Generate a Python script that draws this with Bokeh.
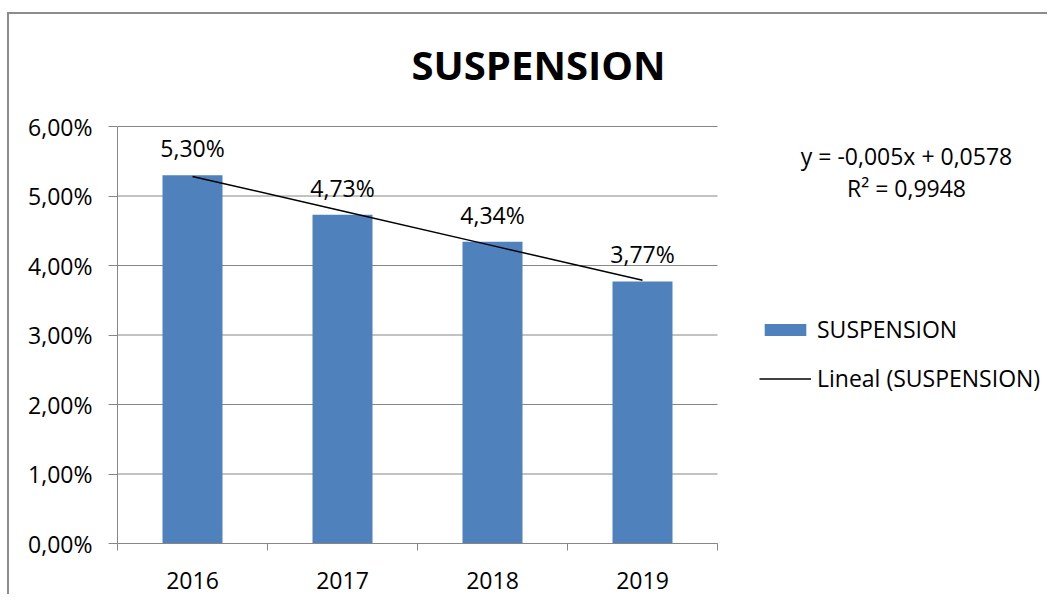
import numpy as np
from bokeh.plotting import figure
from bokeh.models import (ColumnDataSource, FixedTicker, CustomJSTickFormatter, LabelSet, Label,
                          Legend, LegendItem)
from bokeh.core.properties import value
from bokeh.embed import file_html
from bokeh.resources import INLINE

title = "SUSPENSION"
years = ["2016", "2017", "2018", "2019"]
values = [0.0530, 0.0473, 0.0434, 0.0377]
y_ticks = [0.0, 0.01, 0.02, 0.03, 0.04, 0.05, 0.06]
series_name = "SUSPENSION"
trend_name = "Lineal (SUSPENSION)"

FONT = "Open Sans"
GRID = "#868686"
BAR = "#4F81BD"

xs = list(range(1, len(years) + 1))
slope, intercept = np.polyfit(xs, values, 1)
fit = [slope * x + intercept for x in xs]
ss_res = sum((v - f) ** 2 for v, f in zip(values, fit))
mean = sum(values) / len(values)
ss_tot = sum((v - mean) ** 2 for v in values)
r2 = 1 - ss_res / ss_tot

def fmt_num(v, d):
    return f"{v:.{d}f}".replace(".", ",")

eq_text = f"y = {fmt_num(slope, 3)}x + {fmt_num(intercept, 4)}"
r2_text = f"R² = {fmt_num(r2, 4)}"

src = ColumnDataSource(dict(x=xs, top=values,
                            lbl=[fmt_num(v * 100, 2) + "%" for v in values]))

# layout geometry (pixels)
W, H = 1040, 582
B_LEFT, B_RIGHT, B_TOP, B_BOTTOM = 108, 4, 0, 53
PX_PER_CAT = 150.0
AXIS_PX = 417.0          # pixel height of the 0..6% value axis
y_max = y_ticks[-1]
x_start = 0.5
x_end = x_start + (W - B_LEFT - B_RIGHT) / PX_PER_CAT
y_end = y_max * (H - B_TOP - B_BOTTOM) / AXIS_PX
cat_end = len(years) + 0.5

p = figure(width=W, height=H, output_backend="svg", toolbar_location=None,
           x_range=(x_start, x_end), y_range=(0, y_end),
           min_border_left=B_LEFT, min_border_right=B_RIGHT,
           min_border_top=B_TOP, min_border_bottom=B_BOTTOM)
p.styles = {"border-left": "2px solid #8c8c8c", "border-top": "2px solid #8c8c8c",
            "margin-left": "7px", "margin-top": "12px"}
p.outline_line_color = None
p.background_fill_color = "white"
p.border_fill_color = "white"

# gridlines restricted to category area
p.xgrid.visible = False
p.ygrid.visible = False
p.segment(x0=[x_start] * len(y_ticks), x1=[cat_end] * len(y_ticks), y0=y_ticks, y1=y_ticks,
          line_color=GRID, line_width=1)

bars = p.vbar(x="x", top="top", width=0.4, source=src, fill_color=BAR, line_color=None)
trend = p.line(xs, fit, line_color="black", line_width=1.5)

# axes
p.yaxis.bounds = (0, y_max)
p.yaxis.ticker = FixedTicker(ticks=y_ticks)
p.yaxis.formatter = CustomJSTickFormatter(code="return (tick*100).toFixed(2).replace('.', ',') + '%';")
p.yaxis.axis_line_color = GRID
p.yaxis.major_tick_line_color = GRID
p.yaxis.major_tick_out = 9
p.yaxis.major_tick_in = 0
p.yaxis.minor_tick_line_color = None
p.yaxis.major_label_standoff = 16

p.xaxis.bounds = (x_start, cat_end)
p.xaxis.ticker = FixedTicker(ticks=xs, minor_ticks=[x - 0.5 for x in xs] + [xs[-1] + 0.5])
p.xaxis.major_label_overrides = {x: y for x, y in zip(xs, years)}
p.xaxis.axis_line_color = GRID
p.xaxis.major_tick_line_color = None
p.xaxis.minor_tick_line_color = GRID
p.xaxis.minor_tick_out = 7
p.xaxis.minor_tick_in = 0
p.xaxis.major_label_standoff = 21

for ax in (p.xaxis[0], p.yaxis[0]):
    ax.major_label_text_font = FONT
    ax.major_label_text_font_size = "23px"
    ax.major_label_text_color = "black"

labels = LabelSet(x="x", y="top", text="lbl", source=src, text_align="center",
                  text_baseline="alphabetic", y_offset=18, text_font=value(FONT),
                  text_font_size="23px", text_color="black")
p.add_layout(labels)

p.add_layout(Label(x=3.307, y=0.0689, text=title, text_align="center", text_baseline="alphabetic",
                   text_font=FONT, text_font_size="40px", text_font_style="bold", text_color="black"))

eq_x = 5.76
p.add_layout(Label(x=eq_x, y=0.0557, text=eq_text, text_align="center", text_baseline="alphabetic",
                   text_font=FONT, text_font_size="23px", text_color="black"))
p.add_layout(Label(x=eq_x, y=0.0511, text=r2_text, text_align="center", text_baseline="alphabetic",
                   text_font=FONT, text_font_size="23px", text_color="black"))

legend = Legend(items=[LegendItem(label=series_name, renderers=[bars]),
                       LegendItem(label=trend_name, renderers=[trend])],
                location=(642, 149), glyph_width=52, glyph_height=15, label_standoff=6,
                spacing=17, padding=0, margin=0, border_line_color=None,
                background_fill_alpha=0, label_text_font=FONT, label_text_font_size="23px",
                label_text_color="black", label_height=20)
p.add_layout(legend)

open("out.html", "w").write(file_html(p, INLINE))
